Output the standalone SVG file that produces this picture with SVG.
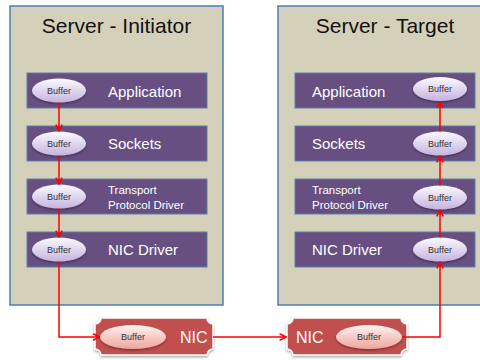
<svg xmlns="http://www.w3.org/2000/svg" width="480" height="360" viewBox="0 0 480 360">
<defs>
<linearGradient id="gBuf" x1="0" y1="0" x2="0" y2="1">
<stop offset="0" stop-color="#FBFAFE"/>
<stop offset="1" stop-color="#C5B3E0"/>
</linearGradient>
<linearGradient id="gNicBuf" x1="0" y1="0" x2="0" y2="1">
<stop offset="0" stop-color="#FFF3F1"/>
<stop offset="1" stop-color="#F0A39C"/>
</linearGradient>
<marker id="arr" viewBox="0 0 10 10" refX="9" refY="5" markerWidth="8" markerHeight="8" markerUnits="userSpaceOnUse" orient="auto">
<path d="M1,1 L9,5 L1,9" fill="none" stroke="#FF0000" stroke-width="2"/>
</marker>
<filter id="sh" x="-10%" y="-10%" width="120%" height="130%">
<feDropShadow dx="0" dy="1.5" stdDeviation="1.2" flood-color="#000" flood-opacity="0.35"/>
</filter>
</defs>
<style>
.server{fill:#D4D0BA;stroke:#4A7EBB;stroke-width:1.5}
.bar{fill:#674F82;stroke:#5F7FA8;stroke-width:1}
.buf{fill:url(#gBuf)}
.nicbuf{fill:url(#gNicBuf)}
.nic{fill:#C0504D;stroke:#FFFFFF;stroke-width:1.5}
.title{font-family:"Liberation Sans",Arial,sans-serif;font-size:21px;fill:#111;text-anchor:middle}
.lbl{font-family:"Liberation Sans",Arial,sans-serif;font-size:15px;fill:#FFFFFF}
.lbls{font-family:"Liberation Sans",Arial,sans-serif;font-size:11.5px;fill:#FFFFFF}
.bt{font-family:"Liberation Sans",Arial,sans-serif;font-size:9px;fill:#333;text-anchor:middle}
.niclbl{font-family:"Liberation Sans",Arial,sans-serif;font-size:16px;fill:#FFFFFF}
.conn{fill:none;stroke:#FF0000;stroke-width:1.5}
</style>

<g id="server-initiator">
<rect class="server" x="10" y="6" width="213" height="299"/>
<text class="title" x="116.5" y="33">Server - Initiator</text>
</g>
<g id="server-target">
<rect class="server" x="278" y="6" width="214" height="299"/>
<text class="title" x="385" y="33">Server - Target</text>
</g>

<g id="i-application">
<rect class="bar" x="27" y="73" width="180" height="35"/>
<ellipse class="buf" cx="59" cy="90.5" rx="27" ry="12" filter="url(#sh)"/>
<text class="bt" x="59" y="93.5">Buffer</text>
<text class="lbl" x="108" y="96.5">Application</text>
</g>
<g id="i-sockets">
<rect class="bar" x="27" y="126" width="180" height="35"/>
<ellipse class="buf" cx="59" cy="143.5" rx="27" ry="12" filter="url(#sh)"/>
<text class="bt" x="59" y="146.5">Buffer</text>
<text class="lbl" x="108" y="149">Sockets</text>
</g>
<g id="i-transport">
<rect class="bar" x="27" y="179" width="180" height="35"/>
<ellipse class="buf" cx="59" cy="196.5" rx="27" ry="12" filter="url(#sh)"/>
<text class="bt" x="59" y="199.5">Buffer</text>
<text class="lbls" x="108" y="194">Transport</text>
<text class="lbls" x="108" y="209">Protocol Driver</text>
</g>
<g id="i-nicdriver">
<rect class="bar" x="27" y="232" width="180" height="35"/>
<ellipse class="buf" cx="59" cy="249.5" rx="27" ry="12" filter="url(#sh)"/>
<text class="bt" x="59" y="252.5">Buffer</text>
<text class="lbl" x="108" y="255">NIC Driver</text>
</g>

<g id="t-application">
<rect class="bar" x="295" y="73" width="180" height="35"/>
<ellipse class="buf" cx="440" cy="89" rx="27" ry="12" filter="url(#sh)"/>
<text class="bt" x="440" y="92">Buffer</text>
<text class="lbl" x="312" y="96.5">Application</text>
</g>
<g id="t-sockets">
<rect class="bar" x="295" y="126" width="180" height="35"/>
<ellipse class="buf" cx="440" cy="143.5" rx="27" ry="12" filter="url(#sh)"/>
<text class="bt" x="440" y="146.5">Buffer</text>
<text class="lbl" x="312" y="149">Sockets</text>
</g>
<g id="t-transport">
<rect class="bar" x="295" y="179" width="180" height="35"/>
<ellipse class="buf" cx="440" cy="197.5" rx="27" ry="12" filter="url(#sh)"/>
<text class="bt" x="440" y="200.5">Buffer</text>
<text class="lbls" x="312" y="194">Transport</text>
<text class="lbls" x="312" y="209">Protocol Driver</text>
</g>
<g id="t-nicdriver">
<rect class="bar" x="295" y="232" width="180" height="35"/>
<ellipse class="buf" cx="440" cy="249.5" rx="27" ry="12" filter="url(#sh)"/>
<text class="bt" x="440" y="252.5">Buffer</text>
<text class="lbl" x="312" y="255">NIC Driver</text>
</g>

<g id="nic-initiator">
<path class="nic" filter="url(#sh)" d="M101,318 H207 A6,6 0 0 0 213,324 V349 A6,6 0 0 0 207,355 H101 A6,6 0 0 0 95,349 V324 A6,6 0 0 0 101,318 Z"/>
<ellipse class="nicbuf" cx="133" cy="337" rx="33" ry="12" filter="url(#sh)"/>
<text class="bt" x="133" y="340">Buffer</text>
<text class="niclbl" x="180" y="343">NIC</text>
</g>
<g id="nic-target">
<path class="nic" filter="url(#sh)" d="M293,318 H401 A6,6 0 0 0 407,324 V349 A6,6 0 0 0 401,355 H293 A6,6 0 0 0 287,349 V324 A6,6 0 0 0 293,318 Z"/>
<ellipse class="nicbuf" cx="369" cy="337" rx="33" ry="12" filter="url(#sh)"/>
<text class="bt" x="369" y="340">Buffer</text>
<text class="niclbl" x="296" y="343">NIC</text>
</g>

<g id="connectors">
<path class="conn" d="M59,102.5 V131" marker-end="url(#arr)"/>
<path class="conn" d="M59,155.5 V184" marker-end="url(#arr)"/>
<path class="conn" d="M59,208.5 V237" marker-end="url(#arr)"/>
<path class="conn" d="M59,261.5 V337 H99.5" marker-end="url(#arr)"/>
<path class="conn" d="M213,337 H286" marker-end="url(#arr)"/>
<path class="conn" d="M402,337 H440 V262" marker-end="url(#arr)"/>
<path class="conn" d="M440,237.5 V210" marker-end="url(#arr)"/>
<path class="conn" d="M440,185.5 V156" marker-end="url(#arr)"/>
<path class="conn" d="M440,131.5 V101.5" marker-end="url(#arr)"/>
</g>
</svg>
